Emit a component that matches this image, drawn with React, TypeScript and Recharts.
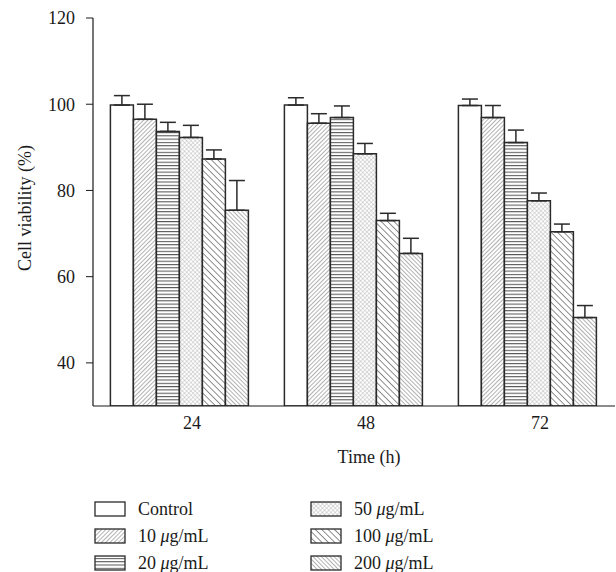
import { Bar, BarChart, ErrorBar, XAxis, YAxis } from 'recharts'

const categories = ['24', '48', '72']
const control = [99.8, 99.8, 99.7]
const controlErr = [2.2, 1.7, 1.5]
const dose10 = [96.5, 95.6, 96.9]
const dose10Err = [3.5, 2.2, 2.8]
const dose20 = [93.7, 96.9, 91.1]
const dose20Err = [2.1, 2.7, 2.9]
const dose50 = [92.3, 88.5, 77.6]
const dose50Err = [2.8, 2.4, 1.8]
const dose100 = [87.3, 73.0, 70.4]
const dose100Err = [2.1, 1.7, 1.8]
const dose200 = [75.4, 65.4, 50.5]
const dose200Err = [6.9, 3.5, 2.8]
const yTicks = [40, 60, 80, 100, 120]

const series = [
  { key: 'control', label: 'Control', dose: '', values: control, errs: controlErr },
  { key: 'd10', label: '', dose: '10', values: dose10, errs: dose10Err },
  { key: 'd20', label: '', dose: '20', values: dose20, errs: dose20Err },
  { key: 'd50', label: '', dose: '50', values: dose50, errs: dose50Err },
  { key: 'd100', label: '', dose: '100', values: dose100, errs: dose100Err },
  { key: 'd200', label: '', dose: '200', values: dose200, errs: dose200Err },
]

const data = categories.map((time, i) => {
  const row: Record<string, unknown> = { time }
  series.forEach((s) => {
    row[s.key] = s.values[i]
    row[s.key + 'Err'] = [0, s.errs[i]]
  })
  return row
})

const FONT = "'Liberation Serif', 'DejaVu Serif', serif"
const INK = '#1a1a1a'
const EDGE = '#2a2a2a'
const FS = 18

function Patterns({ prefix }: { prefix: string }) {
  return (
    <defs>
      <pattern id={`${prefix}-control`} width="4" height="4" patternUnits="userSpaceOnUse">
        <rect width="4" height="4" fill="#fff" />
      </pattern>
      <pattern id={`${prefix}-d10`} width="3" height="3" patternUnits="userSpaceOnUse" patternTransform="rotate(45)">
        <rect width="3" height="3" fill="#fff" />
        <line x1="0" y1="0" x2="0" y2="3" stroke="#666" strokeWidth="1" />
      </pattern>
      <pattern id={`${prefix}-d20`} width="4" height="3.3" patternUnits="userSpaceOnUse">
        <rect width="4" height="3.3" fill="#fff" />
        <line x1="0" y1="0.5" x2="4" y2="0.5" stroke="#555" strokeWidth="1.1" />
      </pattern>
      <pattern id={`${prefix}-d50`} width="3" height="3" patternUnits="userSpaceOnUse" patternTransform="rotate(45)">
        <rect width="3" height="3" fill="#fff" />
        <line x1="0" y1="0" x2="0" y2="3" stroke="#aaa" strokeWidth="0.8" />
        <line x1="0" y1="0" x2="3" y2="0" stroke="#aaa" strokeWidth="0.8" />
      </pattern>
      <pattern id={`${prefix}-d100`} width="4.5" height="4.5" patternUnits="userSpaceOnUse" patternTransform="rotate(-45)">
        <rect width="4.5" height="4.5" fill="#fff" />
        <line x1="0" y1="0" x2="0" y2="4.5" stroke="#333" strokeWidth="1.1" />
      </pattern>
      <pattern id={`${prefix}-d200`} width="3" height="3" patternUnits="userSpaceOnUse" patternTransform="rotate(-45)">
        <rect width="3" height="3" fill="#fff" />
        <line x1="0" y1="0" x2="0" y2="3" stroke="#666" strokeWidth="1" />
      </pattern>
    </defs>
  )
}

function LegendLabel({ label, dose, x, y }: { label: string; dose: string; x: number; y: number }) {
  return (
    <text x={x} y={y} dominantBaseline="central" fontFamily={FONT} fontSize={FS} fill={INK}>
      {label ? (
        label
      ) : (
        <>
          {dose} <tspan fontStyle="italic">μ</tspan>g/mL
        </>
      )}
    </text>
  )
}

export default function App() {
  return (
    <div style={{ position: 'absolute', left: 0, top: 0, width: 616, height: 572, background: '#fff' }}>
      <BarChart
        width={616}
        height={468}
        data={data}
        margin={{ top: 18, right: 1, left: 0, bottom: 0 }}
        barCategoryGap="10%"
        barGap={0}
      >
        <Patterns prefix="bar" />
        <XAxis
          dataKey="time"
          height={62}
          tickLine={false}
          tickMargin={4}
          axisLine={{ stroke: INK, strokeWidth: 1.2 }}
          tick={{ fill: INK, fontSize: FS, fontFamily: FONT, dx: 12 }}
          label={{ value: 'Time (h)', position: 'insideBottom', offset: 5, dx: 15, fill: INK, fontSize: FS, fontFamily: FONT }}
        />
        <YAxis
          width={93}
          domain={[30, 120]}
          ticks={yTicks}
          allowDataOverflow
          tickSize={7}
          tickMargin={11}
          tickLine={{ stroke: INK }}
          axisLine={{ stroke: INK, strokeWidth: 1.2 }}
          tick={{ fill: INK, fontSize: FS, fontFamily: FONT }}
        />
        <text
          x={25}
          y={208}
          transform="rotate(-90, 25, 208)"
          textAnchor="middle"
          dominantBaseline="central"
          fontFamily={FONT}
          fontSize={FS}
          fill={INK}
        >
          Cell viability (%)
        </text>
        {series.map((s) => (
          <Bar
            key={s.key}
            dataKey={s.key}
            fill={`url(#bar-${s.key})`}
            stroke={EDGE}
            strokeWidth={1.5}
            isAnimationActive={false}
          >
            <ErrorBar dataKey={s.key + 'Err'} width={8} stroke={EDGE} strokeWidth={1.5} direction="y" />
          </Bar>
        ))}
      </BarChart>
      <svg width={616} height={90} style={{ position: 'absolute', left: 0, top: 482 }}>
        <Patterns prefix="leg" />
        {series.map((s, i) => {
          const col = i < 3 ? 0 : 1
          const row = i % 3
          const bx = col === 0 ? 95 : 311
          const cy = 27 + row * 27
          return (
            <g key={s.key}>
              <rect x={bx} y={cy - 7} width={30} height={14} fill={`url(#leg-${s.key})`} stroke={EDGE} strokeWidth={1.3} />
              <LegendLabel label={s.label} dose={s.dose} x={bx + 43} y={cy} />
            </g>
          )
        })}
      </svg>
    </div>
  )
}
